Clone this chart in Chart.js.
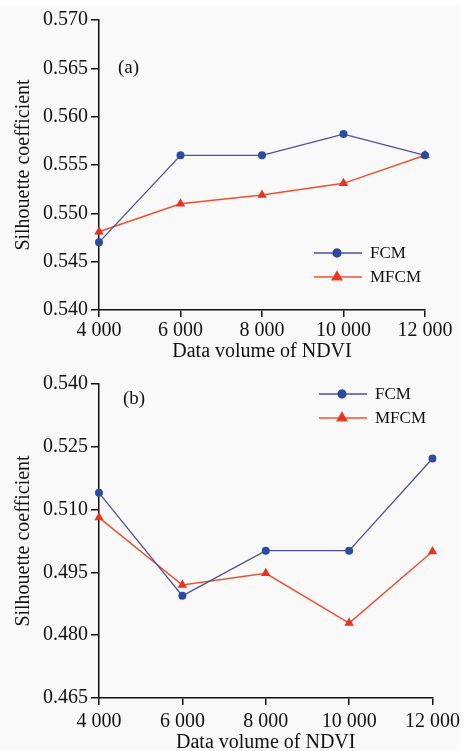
<!DOCTYPE html>
<html>
<head>
<meta charset="utf-8">
<script src="https://cdn.jsdelivr.net/npm/chart.js@4.4.1/dist/chart.umd.min.js"></script>
<style>
    html, body { margin: 0; padding: 0; background: #ffffff; }
    body { width: 465px; height: 751px; position: relative; overflow: hidden; }
    .sheet { position: absolute; left: 0; top: 5px; width: 460px; height: 746px; background: #f9f9fa; }
    .panel { position: absolute; left: 0; width: 465px; }
    #panelA { top: 0; height: 365px; }
    #panelB { top: 365px; height: 390px; }
</style>
</head>
<body>
<div class="sheet"></div>
<div class="panel" id="panelA"><canvas id="chartA"></canvas></div>
<div class="panel" id="panelB"><canvas id="chartB"></canvas></div>

<script>
// x categories (data volume of NDVI)
const volumeLabels = ['4 000', '6 000', '8 000', '10 000', '12 000'];

// (a) silhouette coefficients
const fcmA  = [0.547, 0.556, 0.556, 0.5582, 0.556];
const mfcmA = [0.5481, 0.551, 0.5519, 0.5531, 0.556];

// (b) silhouette coefficients
const fcmB  = [0.514, 0.4894, 0.5002, 0.5002, 0.5222];
const mfcmB = [0.5081, 0.492, 0.4948, 0.4829, 0.500];

const FONT = '"Liberation Serif", "Times New Roman", serif';
const FCM_LINE = '#4d5199';
const FCM_DOT = '#2a4b9f';
const MFCM_LINE = '#f0502f';
const MFCM_DOT = '#e8331f';

// legend with a short line and the marker sitting on it, plus the panel tag
const lineLegend = {
    id: 'lineLegend',
    afterDraw(chart, args, opts) {
        const ctx = chart.ctx;
        const area = chart.chartArea;
        ctx.save();
        ctx.font = '17px ' + FONT;
        ctx.textBaseline = 'middle';
        ctx.fillStyle = '#111';
        chart.data.datasets.forEach((ds, i) => {
            const x0 = area.left + opts.x;
            const y = area.top + opts.y + i * opts.gap;
            ctx.strokeStyle = ds.borderColor;
            ctx.lineWidth = ds.borderWidth;
            ctx.beginPath();
            ctx.moveTo(x0, y);
            ctx.lineTo(x0 + 48, y);
            ctx.stroke();
            Chart.helpers.drawPoint(ctx, {
                pointStyle: ds.pointStyle,
                radius: ds.pointRadius,
                borderWidth: 1
            }, x0 + 23, y);
            ctx.fillStyle = ds.pointBackgroundColor;
            ctx.strokeStyle = ds.pointBorderColor;
            ctx.fill();
            ctx.fillStyle = '#111';
            ctx.fillText(ds.label, x0 + 56, y + 1);
        });
        ctx.font = '19px ' + FONT;
        ctx.fillText(opts.tag, area.left + opts.tagX, area.top + opts.tagY);
        ctx.restore();
    }
};

function buildChart(canvasId, fcm, mfcm, yMin, yMax, yStep, pad, legend) {
    const canvas = document.getElementById(canvasId);
    const box = canvas.parentNode;
    canvas.width = box.clientWidth;
    canvas.height = box.clientHeight;

    return new Chart(canvas.getContext('2d'), {
        type: 'line',
        data: {
            labels: volumeLabels,
            datasets: [
                {
                    label: 'FCM',
                    data: fcm,
                    borderColor: FCM_LINE,
                    borderWidth: 1.3,
                    pointStyle: 'circle',
                    pointRadius: 4,
                    pointBackgroundColor: FCM_DOT,
                    pointBorderColor: FCM_DOT,
                    pointBorderWidth: 0,
                    tension: 0
                },
                {
                    label: 'MFCM',
                    data: mfcm,
                    borderColor: MFCM_LINE,
                    borderWidth: 1.5,
                    pointStyle: 'triangle',
                    pointRadius: 5.5,
                    pointBackgroundColor: MFCM_DOT,
                    pointBorderColor: MFCM_DOT,
                    pointBorderWidth: 0,
                    tension: 0
                }
            ]
        },
        options: {
            responsive: false,
            animation: false,
            layout: { padding: { left: 0, top: pad.top, right: pad.right, bottom: 0 } },
            plugins: {
                legend: { display: false },
                tooltip: { enabled: false },
                lineLegend: legend
            },
            scales: {
                x: {
                    type: 'category',
                    offset: false,
                    border: { display: true, color: '#111', width: 1.5 },
                    grid: { drawOnChartArea: false, drawTicks: true, tickLength: 7, color: '#111', lineWidth: 1.5 },
                    ticks: { color: '#111', font: { family: FONT, size: 20 }, padding: pad.tickPad, maxRotation: 0, autoSkip: false },
                    title: {
                        display: true,
                        text: 'Data volume of NDVI',
                        color: '#111',
                        font: { family: FONT, size: 20 },
                        padding: { top: 0, bottom: pad.titleBottom }
                    },
                    afterFit(scale) { scale.height = pad.xHeight; }
                },
                y: {
                    min: yMin,
                    max: yMax,
                    border: { display: true, color: '#111', width: 1.5 },
                    grid: { drawOnChartArea: false, drawTicks: true, tickLength: 8, color: '#111', lineWidth: 1.5 },
                    ticks: {
                        stepSize: yStep,
                        color: '#111',
                        font: { family: FONT, size: 20 },
                        padding: 3,
                        callback: v => v.toFixed(3)
                    },
                    title: {
                        display: true,
                        text: 'Silhouette coefficient',
                        color: '#111',
                        font: { family: FONT, size: 20 },
                        padding: { top: 12, bottom: 0 }
                    },
                    afterFit(scale) { scale.width = 99; }
                }
            }
        },
        plugins: [lineLegend]
    });
}

buildChart('chartA', fcmA, mfcmA, 0.540, 0.570, 0.005,
    { top: 20, right: 40, xHeight: 55, titleBottom: 1, tickPad: 2 },
    { x: 215, y: 233, gap: 24, tag: '(a)', tagX: 19, tagY: 48 });

buildChart('chartB', fcmB, mfcmB, 0.465, 0.540, 0.015,
    { top: 19, right: 32, xHeight: 57, titleBottom: 0, tickPad: 5 },
    { x: 220, y: 10, gap: 24, tag: '(b)', tagX: 24, tagY: 15 });
</script>
</body>
</html>
